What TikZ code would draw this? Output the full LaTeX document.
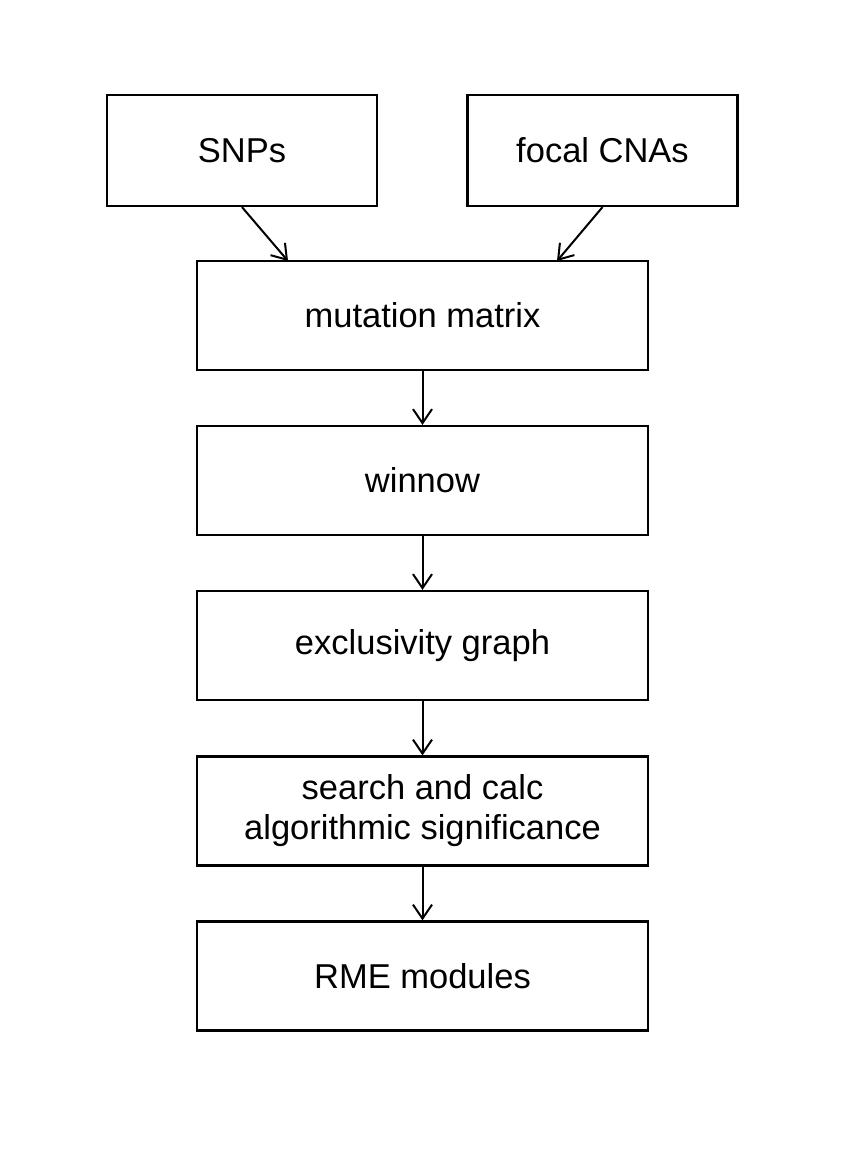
\documentclass[tikz,border=0pt]{standalone}
\usepackage{fontspec}
\setmainfont{Liberation Sans}
\usetikzlibrary{arrows.meta}
\begin{document}
\begin{tikzpicture}[x=1pt,y=-1pt,
  box/.style={draw,line width=2.2pt,minimum width=451pt,minimum height=109pt,inner sep=0pt,font=\fontsize{34.5}{40}\selectfont,align=center},
  topbox/.style={box,minimum width=270pt,minimum height=111pt},
  conn/.style={line width=2pt,-{Straight Barb[length=14pt,width=19pt,line width=2pt]}}]
\useasboundingbox (0,0) rectangle (849,1162);
\node[topbox] (snp) at (242,150.5) {SNPs};
\node[topbox] (cna) at (602.5,150.5) {focal CNAs};
\node[box] (mm) at (422.5,315.5) {mutation matrix};
\node[box] (win) at (422.5,480.5) {winnow};
\node[box] (exg) at (422.5,645.5) {exclusivity graph};
\node[box] (srch) at (422.5,811) {search and calc\\algorithmic significance};
\node[box] (rme) at (422.5,976) {RME modules};
\coordinate (a1) at (288,261);
\coordinate (a2) at (557,261);
\draw[conn] (snp.south) -- (a1);
\draw[conn] (cna.south) -- (a2);
\draw[conn] (mm) -- (win);
\draw[conn] (win) -- (exg);
\draw[conn] (exg) -- (srch);
\draw[conn] (srch) -- (rme);
\end{tikzpicture}
\end{document}
